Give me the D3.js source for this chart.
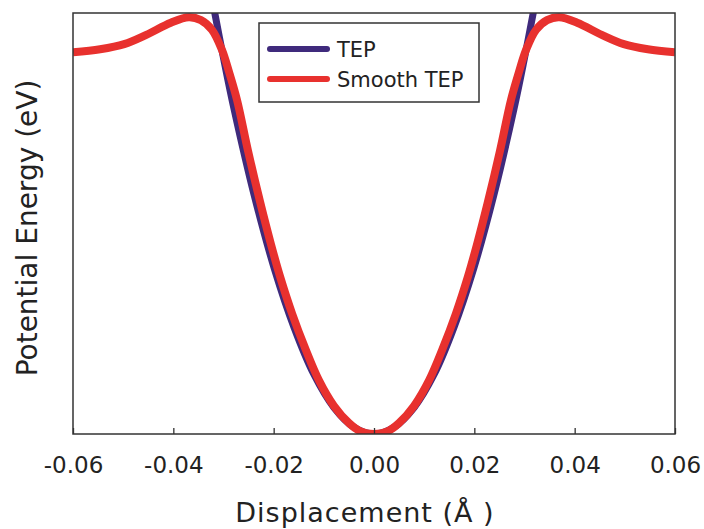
<!DOCTYPE html>
<html>
<head>
<meta charset="utf-8">
<script src="https://cdn.jsdelivr.net/npm/d3@7"></script>
<style>
  body { margin: 0; background: #fff; }
  text { font-family: "DejaVu Sans", sans-serif; fill: #222; }
</style>
</head>
<body>
<div id="chart"></div>
<script>
// displacement (Angstrom) and relative energy
var tepX = [-0.0335, -0.0319, -0.0299, -0.0279, -0.0239, -0.0199, -0.0159, -0.0120, -0.0080, -0.0040, 0,
            0.0040, 0.0080, 0.0120, 0.0159, 0.0199, 0.0239, 0.0279, 0.0299, 0.0319, 0.0335];
var tepE = [1.113, 1.010, 0.887, 0.772, 0.568, 0.394, 0.252, 0.142, 0.063, 0.016, 0,
            0.016, 0.063, 0.142, 0.252, 0.394, 0.568, 0.772, 0.887, 1.010, 1.113];

var smoothX = [-0.0600, -0.0546, -0.0498, -0.0454, -0.0405, -0.0369, -0.0345, -0.0323, -0.0303, -0.0289,
               -0.0273, -0.0251, -0.0227, -0.0205, -0.0187, -0.0163, -0.0136, -0.0110, -0.0080, -0.0050, -0.0028, 0,
               0.0028, 0.0050, 0.0080, 0.0110, 0.0136, 0.0163, 0.0187, 0.0205, 0.0227, 0.0251,
               0.0273, 0.0289, 0.0303, 0.0323, 0.0345, 0.0369, 0.0405, 0.0454, 0.0498, 0.0546, 0.0600];
var smoothE = [0.907, 0.914, 0.926, 0.948, 0.977, 0.990, 0.983, 0.960, 0.912, 0.860,
               0.793, 0.672, 0.551, 0.449, 0.373, 0.285, 0.200, 0.128, 0.067, 0.026, 0.007, 0,
               0.007, 0.026, 0.067, 0.128, 0.200, 0.285, 0.373, 0.449, 0.551, 0.672,
               0.793, 0.860, 0.912, 0.960, 0.983, 0.990, 0.977, 0.948, 0.926, 0.914, 0.907];

var xTicks = [-0.06, -0.04, -0.02, 0.00, 0.02, 0.04, 0.06];
var seriesNames = ["TEP", "Smooth TEP"];
var seriesColors = ["#3f2a7c", "#e8312e"];

var svgWidth = 704;
var svgHeight = 529;
var margin = { top: 13, right: 29, bottom: 95, left: 73 };
var width = svgWidth - margin.left - margin.right;
var height = svgHeight - margin.top - margin.bottom;

var svg = d3.select("#chart")
  .append("svg")
  .attr("width", svgWidth)
  .attr("height", svgHeight);

var chartGroup = svg.append("g")
  .attr("transform", `translate(${margin.left}, ${margin.top})`);

var x = d3.scaleLinear().domain([-0.06, 0.06]).range([0, width]);
var y = d3.scaleLinear().domain([0, 1]).range([height, 0]);

chartGroup.append("clipPath")
  .attr("id", "plotClip")
  .append("rect")
  .attr("width", width)
  .attr("height", height);

var line = d3.line()
  .x(d => x(d[0]))
  .y(d => y(d[1]))
  .curve(d3.curveCatmullRom);

var tepData = d3.zip(tepX, tepE);
var smoothData = d3.zip(smoothX, smoothE);

var curves = chartGroup.append("g").attr("clip-path", "url(#plotClip)");

curves.append("path")
  .datum(tepData)
  .attr("d", line)
  .attr("fill", "none")
  .attr("stroke", seriesColors[0])
  .attr("stroke-width", 7);

curves.append("path")
  .datum(smoothData)
  .attr("d", line)
  .attr("fill", "none")
  .attr("stroke", seriesColors[1])
  .attr("stroke-width", 8)
  .attr("stroke-linejoin", "round");

// bottom axis, ticks pointing inward
var xAxis = d3.axisBottom(x)
  .tickValues(xTicks)
  .tickFormat(d3.format(".2f"))
  .tickSizeInner(-6)
  .tickSizeOuter(0)
  .tickPadding(23);

var xg = chartGroup.append("g")
  .attr("transform", `translate(0, ${height})`)
  .call(xAxis);
xg.select(".domain").remove();
xg.selectAll(".tick line").attr("stroke", "#333").attr("stroke-width", 1.3);
xg.selectAll(".tick text")
  .style("font-family", "'DejaVu Sans', sans-serif")
  .style("font-size", "23px")
  .attr("fill", "#222")
  .text(d => d3.format(".2f")(d).replace("−", "-"));

// frame
chartGroup.append("rect")
  .attr("width", width)
  .attr("height", height)
  .attr("fill", "none")
  .attr("stroke", "#333")
  .attr("stroke-width", 1.5);

// axis titles
svg.append("text")
  .attr("x", margin.left + width / 2 - 9)
  .attr("y", 522)
  .attr("text-anchor", "middle")
  .style("font-size", "27px")
  .style("letter-spacing", "1px")
  .text("Displacement (Å )");

svg.append("text")
  .attr("transform", "translate(37, 228)rotate(-90)")
  .attr("text-anchor", "middle")
  .style("font-size", "28px")
  .text("Potential Energy (eV)");

// legend
var legend = svg.append("g").attr("transform", "translate(259, 23)");
legend.append("rect")
  .attr("width", 220)
  .attr("height", 79)
  .attr("fill", "#fff")
  .attr("stroke", "#333")
  .attr("stroke-width", 1.5);

seriesNames.forEach(function(name, i) {
  var ly = 26 + i * 30;
  legend.append("line")
    .attr("x1", 11)
    .attr("x2", 68)
    .attr("y1", ly)
    .attr("y2", ly)
    .attr("stroke", seriesColors[i])
    .attr("stroke-width", 6)
    .attr("stroke-linecap", "round");
  legend.append("text")
    .attr("x", 78)
    .attr("y", ly + 8)
    .style("font-size", "21px")
    .text(name);
});
</script>
</body>
</html>
